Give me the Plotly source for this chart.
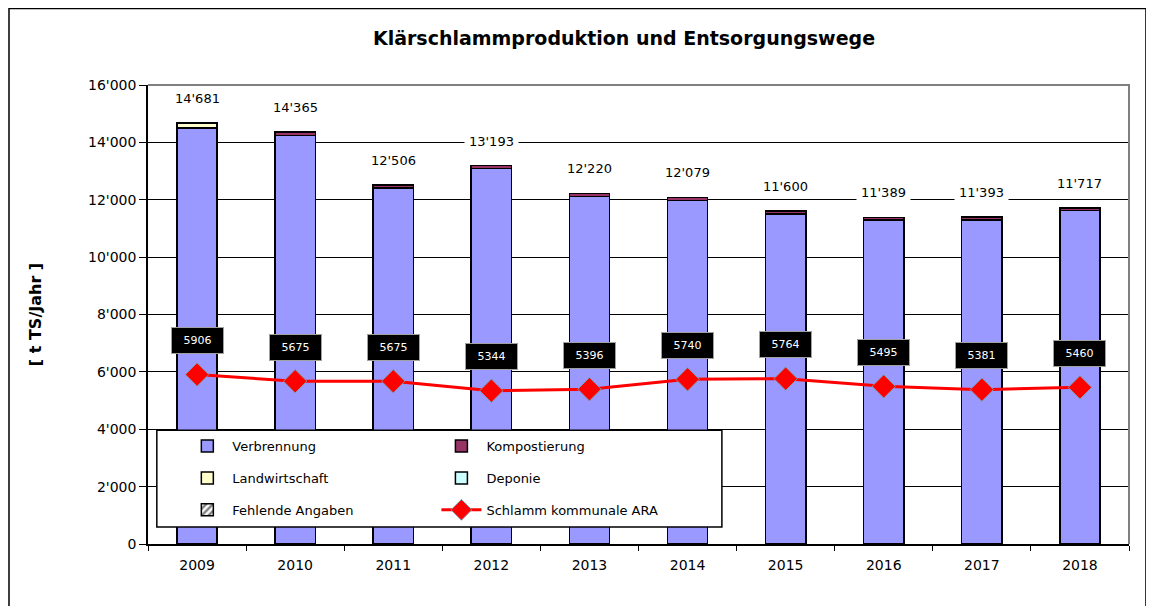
import plotly.graph_objects as go

years = ["2009", "2010", "2011", "2012", "2013", "2014", "2015", "2016", "2017", "2018"]
totals = [14681, 14365, 12506, 13193, 12220, 12079, 11600, 11389, 11393, 11717]
verbrennung = [14500, 14245, 12406, 13093, 12120, 11979, 11500, 11289, 11293, 11617]
kompostierung = [0, 120, 100, 100, 100, 100, 100, 100, 100, 100]
landwirtschaft = [181, 0, 0, 0, 0, 0, 0, 0, 0, 0]
deponie = [0, 0, 0, 0, 0, 0, 0, 0, 0, 0]
fehlende = [0, 0, 0, 0, 0, 0, 0, 0, 0, 0]
schlamm_ara = [5906, 5675, 5675, 5344, 5396, 5740, 5764, 5495, 5381, 5460]

y_ticks = [0, 2000, 4000, 6000, 8000, 10000, 12000, 14000, 16000]
y_ticktext = ["0", "2'000", "4'000", "6'000", "8'000", "10'000", "12'000", "14'000", "16'000"]
total_labels = ["14'681", "14'365", "12'506", "13'193", "12'220", "12'079", "11'600", "11'389", "11'393", "11'717"]

FONT = "DejaVu Sans, Arial, sans-serif"

fig = go.Figure()
edge = dict(color="black", width=1.5)

def bar(name, vals, color, legend, group, pattern=None):
    m = dict(color=color, line=edge)
    if pattern:
        m["pattern"] = pattern
    fig.add_trace(go.Bar(x=years, y=vals, name=name, marker=m, legend=legend,
                         legendgroup=group, hoverinfo="skip"))

bar("Verbrennung", verbrennung, "#9999FF", "legend", "a")
bar("Kompostierung", kompostierung, "#993366", "legend2", "d")
bar("Landwirtschaft", landwirtschaft, "#FFFFCC", "legend", "b")
bar("Deponie", deponie, "#CCFFFF", "legend2", "e")
bar("Fehlende Angaben", fehlende, "white", "legend", "c",
    pattern=dict(shape="/", fgcolor="black", bgcolor="white", size=6, solidity=0.5))

fig.add_trace(go.Scatter(x=years, y=schlamm_ara, name="Schlamm kommunale ARA",
                         mode="lines+markers", legend="legend2", legendgroup="f",
                         line=dict(color="#FF0000", width=3),
                         marker=dict(symbol="diamond", size=18, color="#FF0000",
                                     line=dict(color="#8899AA", width=1))))

annotations = []
for i, (tot, lab) in enumerate(zip(totals, total_labels)):
    annotations.append(dict(x=i, y=tot, xref="x", yref="y", text=lab, showarrow=False,
                            yanchor="bottom", yshift=12, bgcolor="white", borderpad=4,
                            font=dict(family=FONT, size=13, color="black")))
for i, v in enumerate(schlamm_ara):
    annotations.append(dict(x=i, y=v, xref="x", yref="y", text=str(v), showarrow=False,
                            yanchor="middle", yshift=34, bgcolor="black",
                            bordercolor="#A0A0A0", borderwidth=1, borderpad=2,
                            width=47, height=21,
                            font=dict(family=FONT, size=11, color="white")))

shapes = [
    # legend box
    dict(type="rect", xref="paper", yref="paper", x0=0.009, x1=0.585, y0=0.037, y1=0.248,
         fillcolor="white", line=dict(color="black", width=1.5), layer="above"),
    # plot border top/right (gray)
    dict(type="path", xref="paper", yref="paper", path="M 0 1 L 1 1 L 1 0",
         line=dict(color="#808080", width=2), layer="above"),
    # outer frame
    dict(type="rect", xref="paper", yref="paper", x0=-0.1417, x1=1.0173, y0=-0.2,
         y1=1.1667, line=dict(color="black", width=1.5), layer="below"),
]

legend_common = dict(bgcolor="rgba(0,0,0,0)", borderwidth=0, traceorder="grouped",
                     tracegroupgap=12, font=dict(family=FONT, size=13, color="black"),
                     orientation="v", xanchor="left", yanchor="top", itemwidth=40)

fig.update_layout(
    width=1146, height=598,
    margin=dict(l=140, r=25, t=77, b=62),
    paper_bgcolor="white", plot_bgcolor="white",
    barmode="stack", bargap=0.59,
    title=dict(text="<b>Klärschlammproduktion und Entsorgungswege</b>", x=0.5375,
               xanchor="center", y=0.95, yanchor="middle",
               font=dict(family=FONT, size=19, color="black")),
    xaxis=dict(type="category", range=[-0.5, 9.5], tickson="boundaries",
               ticks="outside", ticklen=5, tickcolor="black", showline=True,
               linecolor="black", linewidth=1.5, showgrid=False, ticklabelstandoff=7,
               tickfont=dict(family=FONT, size=14, color="black")),
    yaxis=dict(range=[0, 16000], tickvals=y_ticks, ticktext=y_ticktext, ticks="outside",
               ticklen=7, tickcolor="black", showline=True, linecolor="black",
               linewidth=1.5, showgrid=True, gridcolor="black", gridwidth=1,
               zeroline=False, tickfont=dict(family=FONT, size=14, color="black"),
               title=dict(text="<b>[ t TS/Jahr ]</b>", standoff=42,
                          font=dict(family=FONT, size=16, color="black"))),
    legend=dict(x=0.035, y=0.246, **legend_common),
    legend2=dict(x=0.294, y=0.246, **legend_common),
    annotations=annotations,
    shapes=shapes,
    showlegend=True,
)

fig.write_html("out.html")
